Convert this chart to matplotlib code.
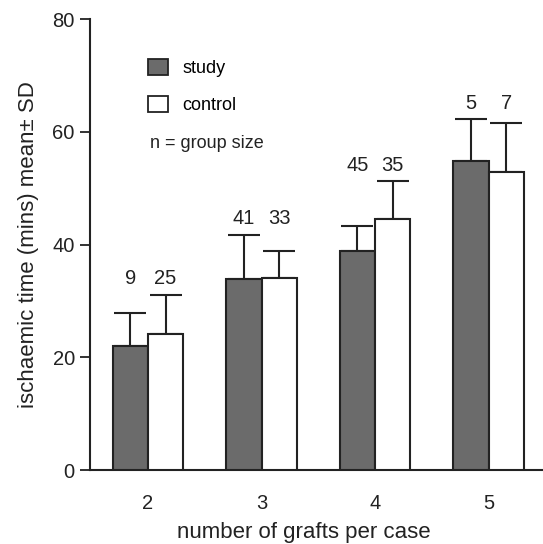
import matplotlib
matplotlib.use("Agg")
import matplotlib.pyplot as plt
from matplotlib.patches import Patch
import numpy as np

# === Datos ===
grafts = ["2", "3", "4", "5"]
study_mean = [22.0, 33.9, 38.8, 54.8]
study_sd = [5.8, 7.8, 4.5, 7.4]
control_mean = [24.2, 34.0, 44.5, 52.9]
control_sd = [6.8, 4.8, 6.7, 8.6]
study_n = [9, 41, 45, 5]
control_n = [25, 33, 35, 7]

plt.rcParams['font.family'] = ['Liberation Sans', 'DejaVu Sans']

fig = plt.figure(figsize=(5.43, 5.44), dpi=100)
ax = fig.add_axes([0.166, 0.136, 0.834, 0.829])

x = np.arange(2, 2 + len(grafts))
w = 0.31
dark = "#6b6b6b"
edge = "#222222"

ax.bar(x - w/2, study_mean, w, color=dark, edgecolor=edge, linewidth=1.5, zorder=3)
ax.bar(x + w/2, control_mean, w, color="white", edgecolor=edge, linewidth=1.5, zorder=3)
err_kw = dict(fmt="none", ecolor=edge, elinewidth=1.5, capsize=11.5, capthick=1.5, zorder=2)
ax.errorbar(x - w/2, study_mean, yerr=[np.zeros(4), study_sd], **err_kw)
ax.errorbar(x + w/2, control_mean, yerr=[np.zeros(4), control_sd], **err_kw)

# tamaños de grupo encima de las barras
for i in range(len(grafts)):
    top = max(study_mean[i] + study_sd[i], control_mean[i] + control_sd[i])
    ax.text(x[i] - w/2, top + 1.2, str(study_n[i]), ha="center", va="bottom", fontsize=14.5, color="#222222")
    ax.text(x[i] + w/2, top + 1.2, str(control_n[i]), ha="center", va="bottom", fontsize=14.5, color="#222222")

ax.set_xlim(1.49, 5.48)
ax.set_ylim(0, 80)
ax.set_yticks([0, 20, 40, 60, 80])
ax.set_xticks(x)
ax.set_xticklabels(grafts)
ax.tick_params(axis="y", direction="out", length=7, width=1.3, labelsize=14.5, colors="#222222", pad=4)
ax.tick_params(axis="x", length=0, labelsize=14.5, colors="#222222", pad=17)
for s in ["top", "right"]:
    ax.spines[s].set_visible(False)
for s in ["left", "bottom"]:
    ax.spines[s].set_linewidth(1.5)
    ax.spines[s].set_color("#222222")

ax.set_xlabel("number of grafts per case", fontsize=16, color="#222222", labelpad=7)
ax.xaxis.label.set_x(0.472)
ax.set_ylabel("ischaemic time (mins) mean\u00b1 SD", fontsize=16, color="#222222", labelpad=10)

handles = [Patch(facecolor=dark, edgecolor=edge, linewidth=1.3, label="study"),
           Patch(facecolor="white", edgecolor=edge, linewidth=1.3, label="control")]
leg = ax.legend(handles=handles, loc="upper left", bbox_to_anchor=(0.128, 0.912), frameon=False,
                fontsize=13, handlelength=1.1, handleheight=1.0, handletextpad=0.8,
                labelspacing=1.05, borderpad=0, borderaxespad=0)
ax.text(0.133, 0.725, "n = group size", transform=ax.transAxes, fontsize=13,
        va="center", color="#222222")

plt.savefig("out.png", dpi=100)
plt.close()
